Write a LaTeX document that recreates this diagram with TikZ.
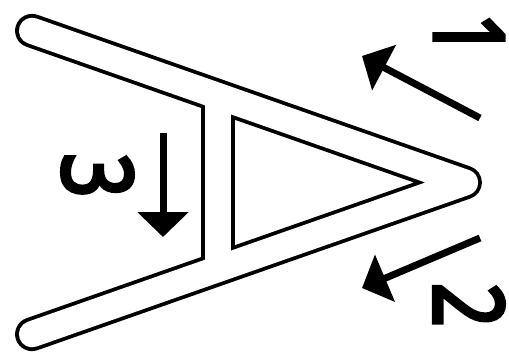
\documentclass[tikz,border=0pt]{standalone}
\usepackage{fontspec}
\newfontfamily\digitfont{Noto Sans}[FakeBold=4]
\usetikzlibrary{arrows.meta}
\begin{document}
\begin{tikzpicture}[x=1pt,y=1pt,
  outerstroke/.style={line width=33.8pt,black},
  innerstroke/.style={line width=26.2pt,white},
  bigarrow/.style={line width=7pt,-{Triangle[length=25pt,width=50pt]}},
  digit/.style={inner sep=0pt,rotate=-90,font=\fontsize{97}{97}\digitfont}]
\useasboundingbox (0,0) rectangle (509,360);
\coordinate (capU) at (32,329.2);
\coordinate (apex) at (465,177.5);
\coordinate (capL) at (32,25.8);
\coordinate (barU) at (218,264);
\coordinate (barL) at (218,91);
% outline of the letter: black wide strokes, then white narrower strokes
\draw[outerstroke,line cap=round,line join=round] (capU) -- (apex) -- (capL);
\draw[outerstroke,line cap=butt] (barU) -- (barL);
\draw[innerstroke,line cap=round,line join=round] (capU) -- (apex) -- (capL);
\draw[innerstroke,line cap=butt] (barU) -- (barL);
% arrows
\coordinate (a1s) at (480,242); \coordinate (a1e) at (362,304);
\coordinate (a2s) at (480,122); \coordinate (a2e) at (362,72);
\coordinate (a3s) at (163,227); \coordinate (a3e) at (163,123);
\draw[bigarrow] (a1s) -- (a1e);
\draw[bigarrow] (a2s) -- (a2e);
\draw[bigarrow] (a3s) -- (a3e);
% labels
\node[digit] (n1) at (469,325) {\scalebox{0.8}[1]{1}};
\node[digit] (n2) at (469,55) {\scalebox{0.8}[1]{2}};
\node[digit] (n3) at (97.5,184.5) {\scalebox{0.8}[1]{3}};
\end{tikzpicture}
\end{document}
